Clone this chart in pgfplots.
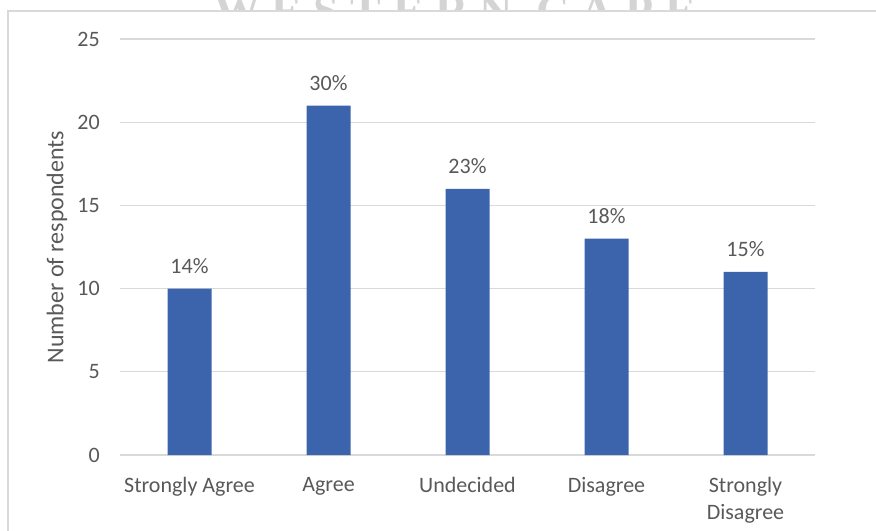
\documentclass[border=0pt]{standalone}
\usepackage{pgfplots}
\pgfplotsset{compat=1.18}
\usepackage{fontspec}
\setmainfont{Carlito}
\newfontfamily\wmfont{Liberation Serif}
\definecolor{barblue}{HTML}{3C64AD}
\definecolor{gridgray}{HTML}{D9D9D9}
\definecolor{txt}{HTML}{595959}
\definecolor{framec}{HTML}{D9D9D9}
\begin{document}
\begin{tikzpicture}
\useasboundingbox (0bp,0bp) rectangle (876bp,531bp);
\clip (0bp,0bp) rectangle (876bp,531bp);
\node[anchor=base, text=black!17, font=\wmfont\bfseries\fontsize{46bp}{50bp}\selectfont] at (455bp,504bp) {W E S T E R N\ \ C A P E};
\fill[white] (8bp,-5bp) rectangle (890bp,520bp);
\draw[framec, line width=2bp] (8bp,-5bp) -- (8bp,520bp) -- (890bp,520bp);
\begin{axis}[
  at={(120bp,76bp)}, anchor=south west,
  scale only axis, width=695bp, height=416bp,
  ybar, bar width=44bp,
  xmin=-0.5, xmax=4.5, ymin=0, ymax=25,
  ytick={0,5,10,15,20,25},
  xtick=data,
  xticklabels={Strongly Agree, Agree, Undecided, Disagree, {Strongly\\Disagree}},
  /pgf/number format/assume math mode=true,
  axis line style={draw=none},
  major tick length=0pt,
  ymajorgrids, grid style={gridgray, line width=1.2bp},
  yticklabel style={font=\fontsize{22bp}{26bp}\selectfont, text=txt, anchor=east, inner sep=0pt, xshift=-20bp},
  xticklabel style={font=\fontsize{22bp}{27bp}\selectfont, text=txt, anchor=north, inner sep=0pt, yshift=-22bp, align=center},
  ylabel={Number of respondents},
  ylabel style={font=\fontsize{24bp}{28bp}\selectfont, text=txt, at={(axis description cs:-0.0906,0.5)}, anchor=center, rotate=0},
  clip=false,
]
\addplot[fill=barblue, draw=none,
  point meta=explicit symbolic,
  nodes near coords={\pgfplotspointmeta\%},
  every node near coord/.append style={font=\fontsize{22bp}{26bp}\selectfont, text=txt, anchor=base, inner sep=0pt, yshift=15bp}]
  table[x=x, y=y, meta=p] {
x y p
0 10 14
1 21 30
2 16 23
3 13 18
4 11 15
};
\end{axis}
\end{tikzpicture}
\end{document}
